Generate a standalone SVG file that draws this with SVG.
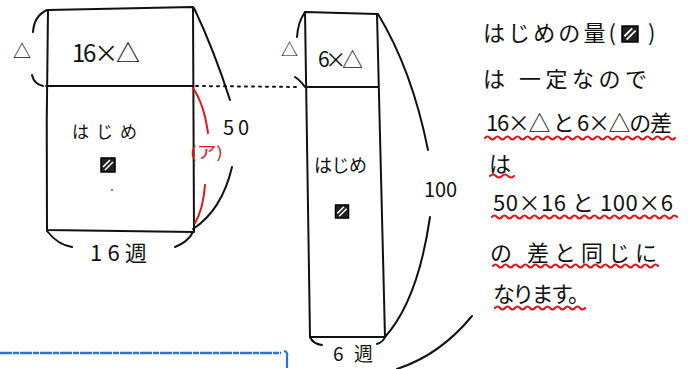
<svg xmlns="http://www.w3.org/2000/svg" xmlns:xlink="http://www.w3.org/1999/xlink" width="691" height="369" viewBox="0 0 691 369">
<style>
.ln{fill:none;stroke:#111;stroke-width:2;stroke-linecap:round;stroke-linejoin:round}
.rd{fill:none;stroke:#e5141b;stroke-width:2;stroke-linecap:round}
.wv{fill:none;stroke:#e5141b;stroke-width:2;stroke-linecap:round}
.t{font-family:"Noto Sans CJK JP","Noto Sans",sans-serif;fill:#111}
.r{font-family:"Noto Sans CJK JP","Noto Sans",sans-serif;fill:#e5141b}
</style>
<defs>
<symbol id="hatch" viewBox="0 0 16 16">
<rect x="1" y="1" width="14" height="14" fill="#222" stroke="#000" stroke-width="1.5"/>
<path d="M3 10 L10 3 M5 13 L13 5" stroke="#fff" stroke-width="1.6" fill="none"/>
</symbol>
</defs>
<rect width="691" height="369" fill="#fff"/>

<g id="left-bar">
<path class="ln" d="M48 10 L193 7 L194 232 L47 230 Q46 120 48 10 Z"/>
<path class="ln" d="M46 86 L193 86"/>
<text class="t" x="72" y="62" font-size="24" textLength="68" lengthAdjust="spacing">16×△</text>
<text class="t" x="72" y="138" font-size="17" textLength="65" lengthAdjust="spacing">はじめ</text>
<use xlink:href="#hatch" x="100" y="157" width="16" height="16"/>
<circle cx="112" cy="190" r="1" fill="#555"/>
<text class="t" x="13" y="58" font-size="18">△</text>
<text class="t" x="90" y="261" font-size="22" textLength="57" lengthAdjust="spacing">16週</text>
<text class="t" x="223" y="135" font-size="20" textLength="26" lengthAdjust="spacing">50</text>
<text class="r" x="190" y="158" font-size="16" textLength="33" lengthAdjust="spacingAndGlyphs">(ア)</text>
</g>

<g id="right-bar">
<path class="ln" d="M305 12 L377 14 L385 337 L310 337 Q307 170 305 12 Z"/>
<path class="ln" d="M306 87 L378 87"/>
<text class="t" x="318" y="67" font-size="21" textLength="45" lengthAdjust="spacing">6×△</text>
<text class="t" x="314" y="172" font-size="18" textLength="53" lengthAdjust="spacing">はじめ</text>
<use xlink:href="#hatch" x="334" y="204" width="16" height="15"/>
<text class="t" x="281" y="56" font-size="17">△</text>
<text class="t" x="333" y="361" font-size="19" textLength="40" lengthAdjust="spacing">6週</text>
<text class="t" x="424" y="197" font-size="20" textLength="33" lengthAdjust="spacing">100</text>
</g>

<g id="connectors">
<path class="ln" d="M47 10 Q34 16 33 32"/>
<path class="ln" d="M32 75 Q34 84 43 86"/>
<path class="ln" d="M194 8 Q214 50 230 100"/>
<path class="ln" d="M232 167 Q222 210 193 229"/>
<path class="ln" d="M47 231 Q58 245 72 247"/>
<path class="ln" d="M175 247 Q188 242 193 232"/>
<path class="ln" d="M196 86 L300 87" stroke-dasharray="2 5" stroke-width="1.6"/>
<path class="rd" d="M193 88 Q204 104 208 133"/>
<path class="rd" d="M205 185 Q203 210 195 223"/>
<path class="ln" d="M305 12 Q298 22 297 37"/>
<path class="ln" d="M295 77 Q300 80 305 87"/>
<path class="ln" d="M378 14 Q412 70 428 150"/>
<path class="ln" d="M430 217 Q418 300 385 337"/>
<path class="ln" d="M310 337 Q313 344 322 345"/>
<path class="ln" d="M377 344 Q383 342 385 337"/>
<path class="ln" d="M472 316 Q440 355 397 369"/>
<path d="M0 353 L281 353" fill="none" stroke="#2f6fe0" stroke-width="2.4" stroke-dasharray="12 1 6 1"/>
<path d="M284 351 Q288 352 287 356 L287 368" fill="none" stroke="#2f6fe0" stroke-width="2.2"/>
</g>

<g id="explanation">
<text class="t" x="483" y="41" font-size="22" textLength="133" lengthAdjust="spacing">はじめの量(</text>
<use xlink:href="#hatch" x="620" y="25" width="20" height="18"/>
<text class="t" x="648" y="41" font-size="22">)</text>
<text class="t" x="483" y="87" font-size="22" textLength="164" lengthAdjust="spacing">は 一定なので</text>
<text class="t" x="486" y="131" font-size="22" textLength="186" lengthAdjust="spacing">16×△ と 6×△の差</text>
<text class="t" x="489" y="172" font-size="22">は</text>
<text class="t" x="493" y="211" font-size="22" textLength="180" lengthAdjust="spacing">50×16 と 100×6</text>
<text class="t" x="490" y="261" font-size="22" textLength="167" lengthAdjust="spacing">の 差と同じに</text>
<text class="t" x="493" y="302" font-size="22" textLength="97" lengthAdjust="spacing">なります。</text>
<path class="wv" d="M485 138 q2.5 -3 5 0 t5 0 t5 0 t5 0 t5 0 t5 0 t5 0 t5 0 t5 0 t5 0 t5 0 t5 0 t5 0 t5 0 t5 0 t5 0 t5 0 t5 0 t5 0 t5 0 t5 0 t5 0 t5 0 t5 0 t5 0 t5 0 t5 0 t5 0 t5 0 t5 0 t5 0 t5 0 t5 0 t5 0 t5 0 t5 0 t5 0 t5 0"/>
<path class="wv" d="M490 176 q3 -3 6 0 t6 0 t6 0 t6 0"/>
<path class="wv" d="M492 217 q2.5 -3 5 0 t5 0 t5 0 t5 0 t5 0 t5 0 t5 0 t5 0 t5 0 t5 0 t5 0 t5 0 t5 0 t5 0 t5 0 t5 0 t5 0 t5 0 t5 0 t5 0 t5 0 t5 0 t5 0 t5 0 t5 0 t5 0 t5 0 t5 0 t5 0 t5 0 t5 0 t5 0 t5 0 t5 0 t5 0 t5 0 t5 0"/>
<path class="wv" d="M493 266 q2.5 -3 5 0 t5 0 t5 0 t5 0 t5 0 t5 0 t5 0 t5 0 t5 0 t5 0 t5 0 t5 0 t5 0 t5 0 t5 0 t5 0 t5 0 t5 0 t5 0 t5 0 t5 0 t5 0 t5 0 t5 0 t5 0 t5 0 t5 0 t5 0 t5 0 t5 0 t5 0 t5 0 t5 0"/>
<path class="wv" d="M495 308 q2.5 -3 5 0 t5 0 t5 0 t5 0 t5 0 t5 0 t5 0 t5 0 t5 0 t5 0 t5 0 t5 0 t5 0 t5 0 t5 0 t5 0 t5 0 t5 0"/>
</g>
</svg>
